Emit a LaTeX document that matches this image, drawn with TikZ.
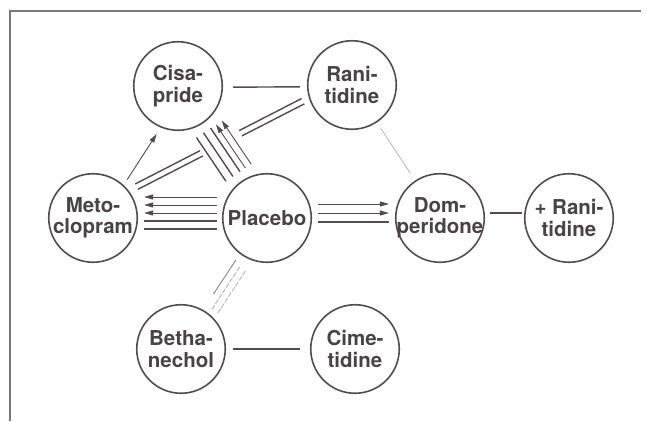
\documentclass[tikz,border=0pt]{standalone}
\usepackage{fontspec}
\setmainfont{TeX Gyre Heros}
\usetikzlibrary{arrows.meta}
\definecolor{ink}{HTML}{534C4E}
\definecolor{txt}{HTML}{4A4345}
\definecolor{frm}{HTML}{7A7878}
\definecolor{faint}{HTML}{B4AFAF}
\definecolor{midg}{HTML}{8A8585}
\begin{document}
\begin{tikzpicture}[x=1pt,y=1pt,
  bub/.style={circle, draw=ink, line width=1.6pt, minimum size=88.5pt, inner sep=0pt},
  lbl/.style={text=txt, font=\bfseries\fontsize{20.5}{21.5}\selectfont, align=center, inner sep=0pt},
  ln/.style={draw=ink, line width=1.4pt},
  arl/.style={draw=ink, line width=0.9pt, -{Triangle[length=9pt,width=5pt]}},
  thinln/.style={draw=faint, line width=0.7pt},
  fadeln/.style={draw=faint, line width=0.8pt, dash pattern=on 5pt off 1.5pt},
  grayln/.style={draw=midg, line width=0.9pt},
  frame/.style={draw=frm, line width=1.2pt}]
\useasboundingbox (0,0) rectangle (647,-421);
\fill[white] (0,0) rectangle (647,-421);
% frame
\coordinate (fbl) at (10,-421);
\coordinate (ftl) at (10,-11);
\coordinate (ftr) at (641,-11);
\draw[frame] (fbl) -- (ftl) -- (ftr);
% nodes
\node[bub] (cis) at (178,-86) {};
\node[bub] (ran) at (352,-85) {};
\node[bub] (met) at (93,-218) {};
\node[bub] (pla) at (267,-218) {};
\node[bub] (dom) at (440,-218) {};
\node[bub] (rn2) at (569,-218) {};
\node[bub] (bet) at (181,-349) {};
\node[bub] (cim) at (355,-349) {};
\node[lbl] (cist) at (cis) {Cisa-\\pride};
\node[lbl] (rant) at (ran) {Rani-\\tidine};
\node[lbl] (mett) at (met) {Meto-\\clopram};
\node[lbl] (plat) at (pla) {Placebo};
\node[lbl] (domt) at (dom) {Dom-\\peridone};
\node[lbl] (rn2t) at (rn2) {+ Rani-\\tidine};
\node[lbl] (bett) at (bet) {Betha-\\nechol};
\node[lbl] (cimt) at (cim) {Cime-\\tidine};
% Cisapride -- Ranitidine
\draw[ln, transform canvas={yshift=-1.5pt}, shorten <=10pt, shorten >=7pt] (cis) -- (ran);
% Ranitidine -- Metoclopram (double, broken)
\draw[ln, transform canvas={shift={(-2.28,4.45)}}, shorten <=6pt, shorten >=125pt] (ran) -- (met);
\draw[ln, transform canvas={shift={(-5.02,9.78)}}, shorten <=6pt, shorten >=125pt] (ran) -- (met);
\draw[ln, transform canvas={shift={(-2.28,4.45)}}, shorten <=120pt, shorten >=8pt] (ran) -- (met);
\draw[ln, transform canvas={shift={(-5.02,9.78)}}, shorten <=120pt, shorten >=8pt] (ran) -- (met);
% Metoclopram -> Cisapride
\draw[arl, transform canvas={shift={(6.73,-4.33)}}, shorten <=5.7pt, shorten >=6.7pt] (met) -- (cis);
% Cisapride -- Placebo (3 plain, 2 arrows to Cisapride)
\draw[ln, transform canvas={shift={(-11.16,-7.59)}}, shorten <=8pt, shorten >=8.4pt] (cis) -- (pla);
\draw[ln, transform canvas={shift={(-4.14,-2.81)}}, shorten <=8pt, shorten >=8.4pt] (cis) -- (pla);
\draw[ln, transform canvas={shift={(2.89,1.97)}}, shorten <=8pt, shorten >=8.4pt] (cis) -- (pla);
\draw[arl, transform canvas={shift={(8.27,5.62)}}, shorten >=8pt, shorten <=8.4pt] (pla) -- (cis);
\draw[arl, transform canvas={shift={(14.06,9.55)}}, shorten >=8pt, shorten <=8.4pt] (pla) -- (cis);
% Metoclopram -- Placebo (3 arrows to Metoclopram, 2 plain)
\draw[arl, transform canvas={yshift=21pt}, shorten >=6pt, shorten <=5pt] (pla) -- (met);
\draw[arl, transform canvas={yshift=13pt}, shorten >=6pt, shorten <=5pt] (pla) -- (met);
\draw[arl, transform canvas={yshift=5pt}, shorten >=6pt, shorten <=5pt] (pla) -- (met);
\draw[ln, transform canvas={yshift=-3pt}, shorten <=6pt, shorten >=5pt] (met) -- (pla);
\draw[ln, transform canvas={yshift=-11pt}, shorten <=6pt, shorten >=5pt] (met) -- (pla);
% Placebo -- Domperidone (2 arrows, 1 plain)
\draw[arl, transform canvas={yshift=14pt}, shorten <=6pt, shorten >=6pt] (pla) -- (dom);
\draw[arl, transform canvas={yshift=5pt}, shorten <=6pt, shorten >=6pt] (pla) -- (dom);
\draw[ln, transform canvas={yshift=-4pt}, shorten <=6pt, shorten >=6pt] (pla) -- (dom);
% Ranitidine -- Domperidone (faint)
\draw[thinln, shorten <=7pt, shorten >=9pt] (ran) -- (dom);
% Domperidone -- + Ranitidine
\draw[ln, transform canvas={yshift=5pt}, shorten <=5pt, shorten >=2pt] (dom) -- (rn2);
% Placebo -- Bethanechol (faint)
\draw[grayln, transform canvas={shift={(-2.51,1.65)}}, shorten <=7pt, shorten >=18.7pt] (pla) -- (bet);
\draw[fadeln, transform canvas={shift={(3.34,-2.20)}}, shorten <=11pt, shorten >=4.7pt] (pla) -- (bet);
\draw[fadeln, transform canvas={shift={(9.2,-6.04)}}, shorten <=11pt, shorten >=4.7pt] (pla) -- (bet);
% Bethanechol -- Cimetidine
\draw[ln, shorten <=7pt, shorten >=10pt] (bet) -- (cim);
\end{tikzpicture}
\end{document}
